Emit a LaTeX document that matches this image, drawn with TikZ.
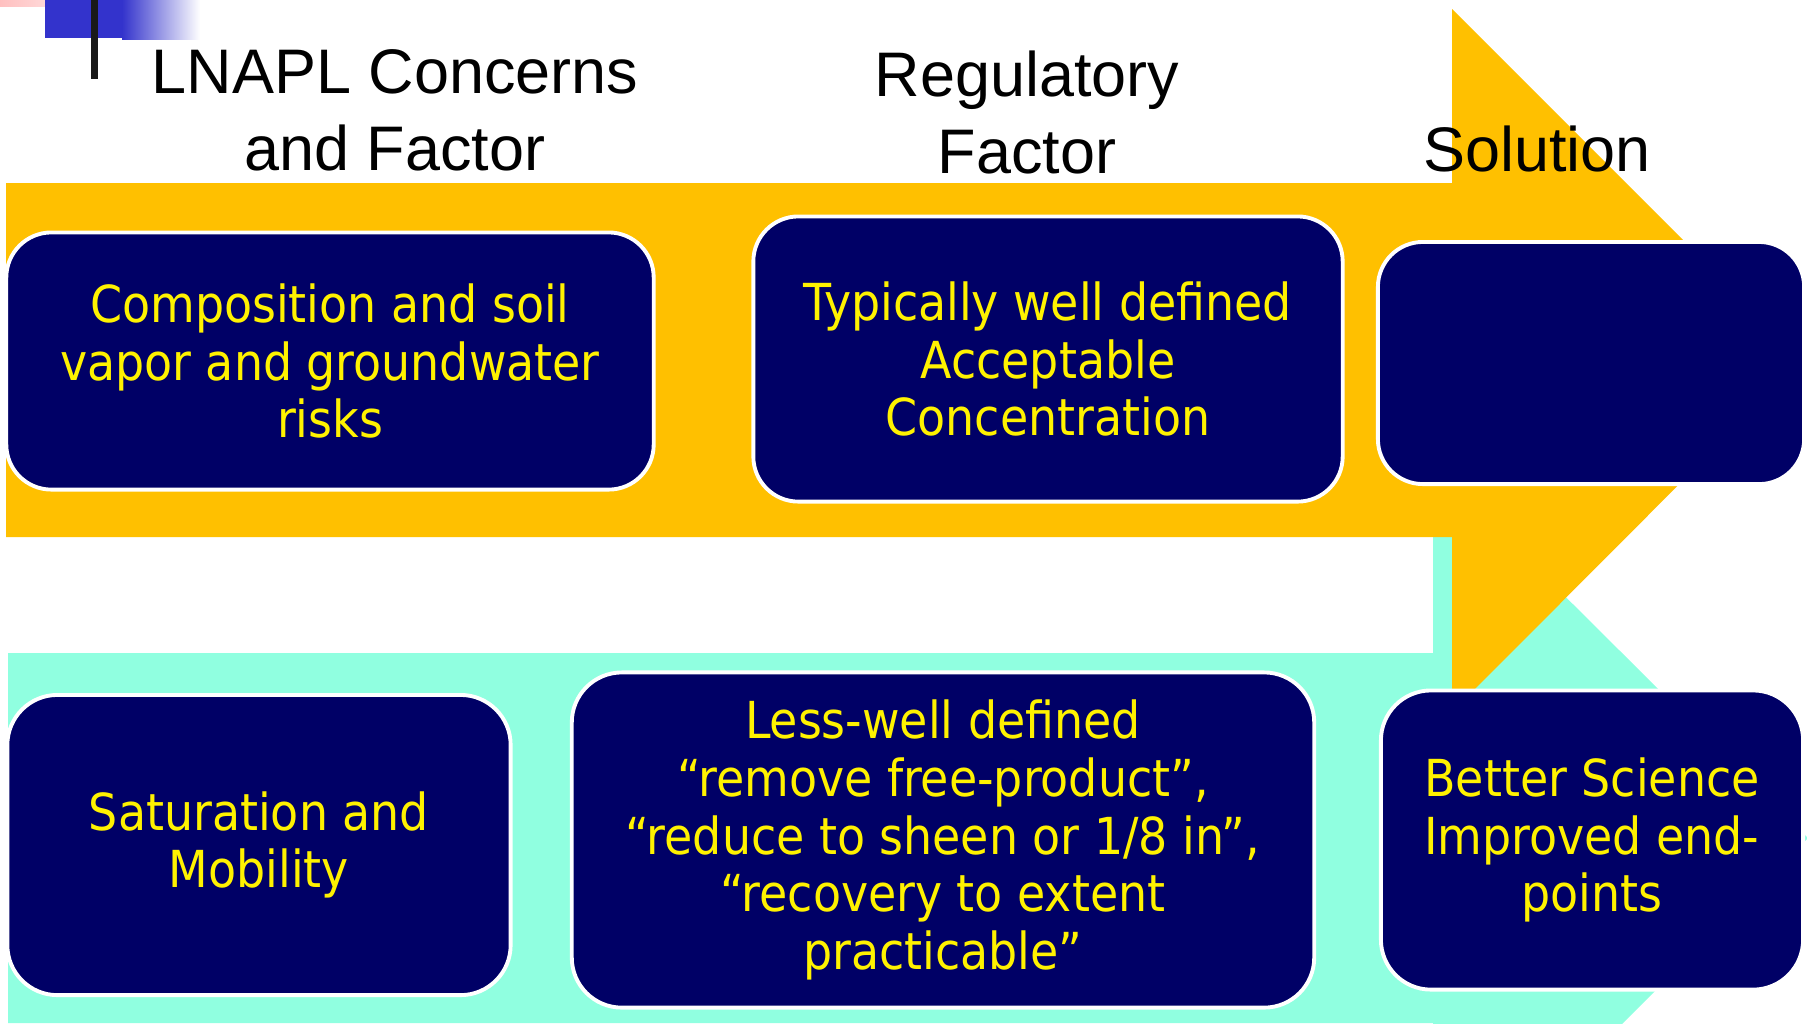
\documentclass[tikz,border=0pt]{standalone}
\usepackage{fontspec}
\usepackage{xcolor}
\usepackage{tikz}
\usetikzlibrary{positioning}

\newfontfamily\headfont{Liberation Sans}
\newfontfamily\boxfont{DejaVu Sans Condensed}

\definecolor{arrowgold}{HTML}{FFC000}
\definecolor{arrowaqua}{HTML}{90FFE0}
\definecolor{boxnavy}{HTML}{000066}
\definecolor{titleblue}{HTML}{3333CC}
\definecolor{titlepink}{HTML}{FFC0C0}

\begin{document}
\begin{tikzpicture}[
    x=0.01cm, y=-0.01cm,
    factor/.style={rectangle, draw=white, line width=1.1pt, fill=boxnavy,
                   rounded corners=0.45cm, inner sep=0pt, outer sep=0pt,
                   text=yellow, align=center,
                   font=\boxfont\fontsize{14.5pt}{16.4pt}\selectfont},
    heading/.style={align=center, inner sep=0pt,
                    font=\headfont\fontsize{17.9pt}{21.9pt}\selectfont}
]
\useasboundingbox (0,0) rectangle (1807,1023);

% Title bar
\shade[left color=titlepink, right color=titlepink!60] (0,0) rectangle (49,6);
\fill[titleblue] (45,0) rectangle (122,38);
\shade[left color=titleblue, right color=white] (122,0) rectangle (200,39);
\fill[black!90] (91,0) rectangle (98,79);

% Block arrows
\fill[arrowaqua] (8,653) -- (1433,653) -- (1433,465) -- (1808,838)
    -- (1433,1213) -- (1433,1023) -- (8,1023) -- cycle;
\fill[arrowgold] (6,183) -- (1452,183) -- (1452,9) -- (1803,360)
    -- (1452,712) -- (1452,537) -- (6,537) -- cycle;

% Headings
\node[heading] (concerns) at (395,110) {LNAPL Concerns\\and Factor};
\node[heading] (regulatory) at (1027,112) {Regulatory\\Factor};
\node[heading] (solution) at (1537,149) {Solution};

% Upper row
\node[factor, minimum width=6.47cm, minimum height=2.57cm] (composition) at (330,361)
    {Composition and soil\\vapor and groundwater\\risks};
\node[factor, minimum width=5.89cm, minimum height=2.85cm] (acceptable) at (1048,359)
    {Typically well defined\\Acceptable\\Concentration};
\node[factor, minimum width=4.26cm, minimum height=2.42cm] (solutiontop) at (1591,363) {};

% Lower row
\node[factor, minimum width=5.03cm, minimum height=3.00cm, rounded corners=0.5cm] (saturation) at (259,845)
    {Saturation and\\Mobility};
\node[factor, minimum width=7.42cm, minimum height=3.35cm, rounded corners=0.5cm] (lesswell) at (943,840)
    {Less-well defined\\“remove free-product”,\\“reduce to sheen or 1/8 in”,\\“recovery to extent\\practicable”};
\node[factor, minimum width=4.22cm, minimum height=2.99cm, rounded corners=0.5cm] (science) at (1592,840)
    {Better Science\\Improved end-\\points};

\end{tikzpicture}
\end{document}
